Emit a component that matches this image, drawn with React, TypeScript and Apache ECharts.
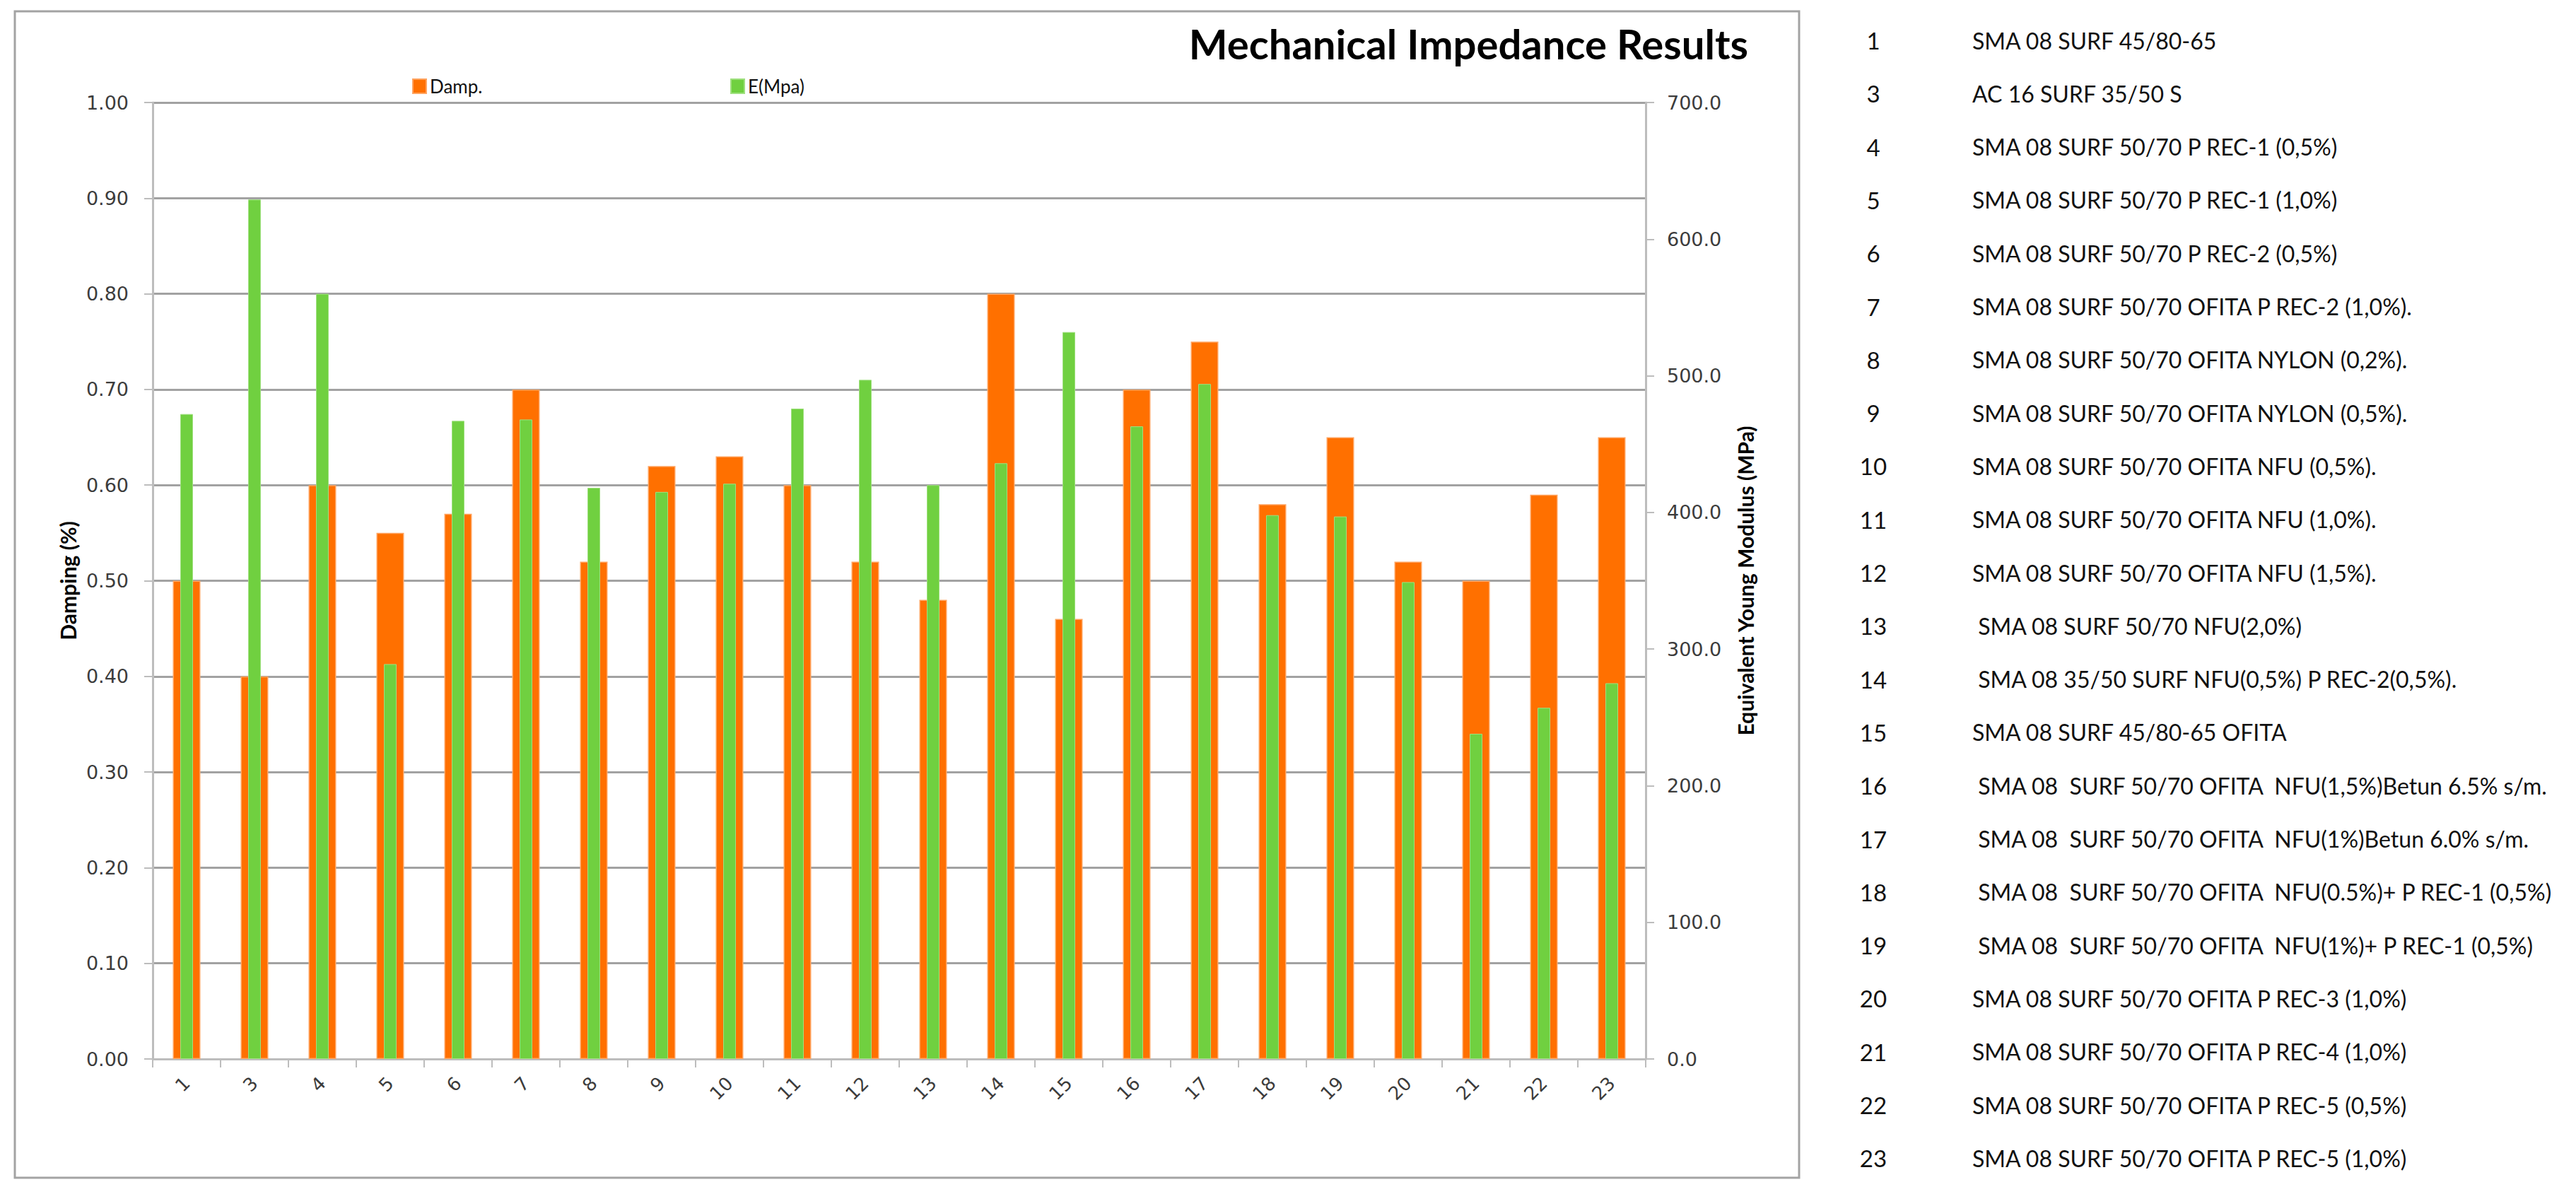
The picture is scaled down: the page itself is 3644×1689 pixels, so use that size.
import React, { useEffect, useRef } from 'react';
import * as echarts from 'echarts';

const categories = ['1', '3', '4', '5', '6', '7', '8', '9', '10', '11', '12', '13', '14', '15', '16', '17', '18', '19', '20', '21', '22', '23'];
const dampValues = [0.50, 0.40, 0.60, 0.55, 0.57, 0.70, 0.52, 0.62, 0.63, 0.60, 0.52, 0.48, 0.80, 0.46, 0.70, 0.75, 0.58, 0.65, 0.52, 0.50, 0.59, 0.65];
const modulusValues = [472, 629, 560, 289, 467, 468, 418, 415, 421, 476, 497, 420, 436, 532, 463, 494, 398, 397, 349, 238, 257, 275];
const seriesNames = ['Damp.', 'E(Mpa)'];
const chartTitle = 'Mechanical Impedance Results';
const leftAxisName = 'Damping (%)';
const rightAxisName = 'Equivalent Young Modulus (MPa)';
const listNumbers = categories;
const listLabels = [
  'SMA 08 SURF 45/80-65',
  'AC 16 SURF 35/50 S',
  'SMA 08 SURF 50/70 P REC-1 (0,5%)',
  'SMA 08 SURF 50/70 P REC-1 (1,0%)',
  'SMA 08 SURF 50/70 P REC-2 (0,5%)',
  'SMA 08 SURF 50/70 OFITA P REC-2 (1,0%).',
  'SMA 08 SURF 50/70 OFITA NYLON (0,2%).',
  'SMA 08 SURF 50/70 OFITA NYLON (0,5%).',
  'SMA 08 SURF 50/70 OFITA NFU (0,5%).',
  'SMA 08 SURF 50/70 OFITA NFU (1,0%).',
  'SMA 08 SURF 50/70 OFITA NFU (1,5%).',
  ' SMA 08 SURF 50/70 NFU(2,0%)',
  ' SMA 08 35/50 SURF NFU(0,5%) P REC-2(0,5%).',
  'SMA 08 SURF 45/80-65 OFITA',
  ' SMA 08  SURF 50/70 OFITA  NFU(1,5%)Betun 6.5% s/m.',
  ' SMA 08  SURF 50/70 OFITA  NFU(1%)Betun 6.0% s/m.',
  ' SMA 08  SURF 50/70 OFITA  NFU(0.5%)+ P REC-1 (0,5%)',
  ' SMA 08  SURF 50/70 OFITA  NFU(1%)+ P REC-1 (0,5%)',
  'SMA 08 SURF 50/70 OFITA P REC-3 (1,0%)',
  'SMA 08 SURF 50/70 OFITA P REC-4 (1,0%)',
  'SMA 08 SURF 50/70 OFITA P REC-5 (0,5%)',
  'SMA 08 SURF 50/70 OFITA P REC-5 (1,0%)',
];

const NARROW = "Lato, Roboto, sans-serif";
const TICKF = "'DejaVu Sans', Verdana, sans-serif";

export default function App() {
  const ref = useRef<HTMLDivElement>(null);
  useEffect(() => {
    document.body.style.margin = '0';
    const chart = echarts.init(ref.current!, null, { renderer: 'svg' });
    const axisGray = '#bdbdbd';
    const graphic: any[] = [
      {
        type: 'rect', z: -10,
        shape: { x: 21, y: 16, width: 2524, height: 1650 },
        style: { fill: '#fff', stroke: '#a3a3a3', lineWidth: 3 },
      },
      {
        type: 'text', x: 2473, y: 61,
        style: {
          text: chartTitle, fontSize: 58, fontWeight: 'bold', fontFamily: NARROW, fill: '#000',
          align: 'right', verticalAlign: 'middle', textAlign: 'right', textVerticalAlign: 'middle',
        },
      },
    ];
    listLabels.forEach((label, i) => {
      const y = 57 + 75.3 * i;
      graphic.push({
        type: 'text', x: 2650, y,
        style: {
          text: listNumbers[i], fontSize: 33, fontFamily: NARROW, fill: '#111',
          align: 'center', verticalAlign: 'middle', textAlign: 'center', textVerticalAlign: 'middle',
        },
      });
      graphic.push({
        type: 'text', x: 2790, y,
        style: {
          text: label, fontSize: 32, fontFamily: NARROW, fill: '#111',
          align: 'left', verticalAlign: 'middle', textAlign: 'left', textVerticalAlign: 'middle',
        },
      });
    });

    const legendBase = {
      top: 104, itemWidth: 19, itemHeight: 20, icon: 'rect', selectedMode: false,
      textStyle: { fontSize: 26, fontFamily: NARROW, color: '#111' },
    };

    chart.setOption({
      animation: false,
      backgroundColor: '#fff',
      graphic,
      legend: [
        { ...legendBase, left: 578, data: [seriesNames[0]] },
        { ...legendBase, left: 1028, data: [seriesNames[1]] },
      ],
      grid: { left: 216, right: 3644 - 2328, top: 145, bottom: 1689 - 1498, containLabel: false },
      xAxis: [
        {
          type: 'category', data: categories, position: 'bottom',
          axisLine: { show: true, lineStyle: { color: axisGray, width: 3 } },
          axisTick: { show: true, length: 12, interval: 0, lineStyle: { color: axisGray, width: 2 } },
          axisLabel: { interval: 0, rotate: 45, margin: 30, fontSize: 26, fontFamily: TICKF, color: '#3c3c3c' },
        },
        {
          type: 'category', data: categories, position: 'bottom', show: false,
        },
      ],
      yAxis: [
        {
          type: 'value', min: 0, max: 1, interval: 0.1, position: 'left',
          name: leftAxisName, nameLocation: 'middle', nameGap: 104,
          nameTextStyle: { fontSize: 30, fontWeight: 'bold', fontFamily: NARROW, color: '#000' },
          axisLine: { show: true, lineStyle: { color: axisGray, width: 3 } },
          axisTick: { show: true, length: 12, lineStyle: { color: axisGray, width: 2 } },
          axisLabel: { margin: 34, fontSize: 27, fontFamily: TICKF, color: '#3c3c3c', formatter: (v: number) => v.toFixed(2) },
          splitLine: { show: true, lineStyle: { color: '#a2a2a2', width: 3 } },
        },
        {
          type: 'value', min: 0, max: 700, interval: 100, position: 'right',
          name: rightAxisName, nameLocation: 'middle', nameGap: 126,
          nameTextStyle: { fontSize: 30, fontWeight: 'bold', fontFamily: NARROW, color: '#000' },
          axisLine: { show: true, lineStyle: { color: axisGray, width: 3 } },
          axisTick: { show: true, length: 12, lineStyle: { color: axisGray, width: 2 } },
          axisLabel: { margin: 30, fontSize: 27, fontFamily: TICKF, color: '#3c3c3c', formatter: (v: number) => v.toFixed(1) },
          splitLine: { show: false },
        },
      ],
      series: [
        {
          name: seriesNames[0], type: 'bar', xAxisIndex: 0, yAxisIndex: 0, data: dampValues,
          barWidth: 39, z: 2,
          itemStyle: { color: '#ff7000', borderColor: '#ffa35f', borderWidth: 1.5 },
        },
        {
          name: seriesNames[1], type: 'bar', xAxisIndex: 1, yAxisIndex: 1, data: modulusValues,
          barWidth: 18, z: 3,
          itemStyle: { color: '#70d040', borderColor: '#9fe07f', borderWidth: 1 },
        },
      ],
    });
    return () => chart.dispose();
  }, []);
  return <div ref={ref} style={{ width: 3644, height: 1689 }} />;
}
